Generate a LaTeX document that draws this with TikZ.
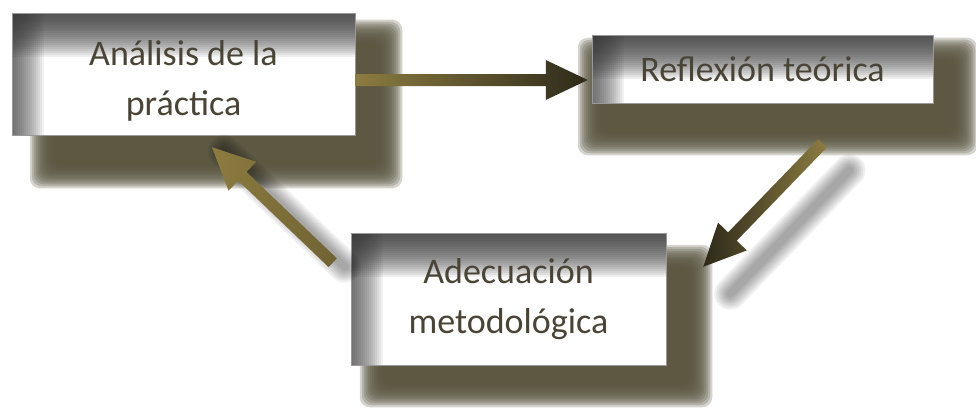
\documentclass[tikz,border=0pt]{standalone}
\usepackage{fontspec}
\setmainfont{Carlito}
\usetikzlibrary{calc,backgrounds}

\definecolor{shadowolive}{HTML}{57533D}
\definecolor{edgegray}{HTML}{3A3A3A}
\definecolor{arrowtan}{HTML}{8C7C40}
\definecolor{arrowdark}{HTML}{2E2A1A}
\definecolor{textgray}{HTML}{4A4436}

\tikzset{
  stagebox/.style={rectangle, draw=black!40, line width=0.5pt, inner sep=0pt,
    align=center, text=textgray, font=\fontsize{36}{50}\selectfont},
}

%% soft olive shadow between two corners
\newcommand{\softshadow}[2]{%
  \foreach \k in {0,...,11}
    \fill[shadowolive, opacity=0.25, rounded corners=10pt] ($(#1)+(\k*2,\k*2)$) rectangle ($(#2)-(\k*2,\k*2)$);
}
%% white face of a box, darkened along top and left edge
\newcommand{\boxface}[1]{%
  \fill[white] (#1.north west) rectangle (#1.south east);
  \foreach \k in {1,...,22}
    \fill[edgegray, opacity=0.08] (#1.north west) rectangle ($(#1.north east)+(0,\k*2)$);
  \foreach \k in {1,...,16}
    \fill[edgegray, opacity=0.07] (#1.north west) rectangle ($(#1.south west)+(\k*2,0)$);
}
%% blurred shadow of a fat arrow
\newcommand{\arrowshadow}[3]{%
  \foreach \w in {8,12,...,32}
    \draw[black, opacity=0.06, line width=\w pt, line cap=round] ($(#1)+(#3)$) -- ($(#2)+(#3)$);
}
%% fat arrow from #1 to #2, #3 = shading
\newcommand{\bigarrow}[3]{%
  \coordinate (hb) at ($(#2)!42pt!(#1)$);
  \shade[#3] ($(#1)!6pt!-90:(#2)$) -- ($(hb)!6pt!90:(#1)$) -- ($(hb)!20pt!90:(#1)$) -- (#2)
    -- ($(hb)!20pt!-90:(#1)$) -- ($(hb)!6pt!-90:(#1)$) -- ($(#1)!6pt!90:(#2)$) -- cycle;
}

\begin{document}
\begin{tikzpicture}[x=1pt, y=-1pt]
\useasboundingbox (0,0) rectangle (976,412);

%% boxes
\node[stagebox, minimum width=343pt, minimum height=122pt] (analisis) at (183.5,74) {\rule{0pt}{39pt}Análisis de la\\práctica};
\node[stagebox, minimum width=341pt, minimum height=68pt] (reflexion) at (762.5,69) {Reflexión teórica};
\node[stagebox, minimum width=315pt, minimum height=132pt] (adecuacion) at (508.5,299) {Adecuación\\metodológica};

%% shadows and faces
\begin{scope}[on background layer]
\softshadow{$(analisis.north west)+(18,7)$}{$(analisis.south east)+(47,53)$}
\softshadow{$(reflexion.north west)+(-14,3)$}{$(reflexion.south east)+(44,52)$}
\softshadow{$(adecuacion.north west)+(9,12)$}{$(adecuacion.south east)+(46,42)$}
\boxface{analisis}
\boxface{reflexion}
\boxface{adecuacion}
\end{scope}

%% arrow ends
\coordinate (ar) at ([yshift=-6pt]analisis.east);
\coordinate (rf) at ($(reflexion.west)+(-4,11)$);
\coordinate (rs) at ($(reflexion.south)+(60,40)$);
\coordinate (ad) at ($(adecuacion.north east)+(37,34)$);
\coordinate (as) at ($(adecuacion.north west)+(-18,30)$);
\coordinate (an) at ($(analisis.south)+(28.5,12)$);

%% arrows
\arrowshadow{rs}{ad}{27,27}
\arrowshadow{as}{an}{12,4}
\bigarrow{ar}{rf}{left color=arrowtan, middle color=arrowdark!85!arrowtan, right color=arrowdark}
\bigarrow{rs}{ad}{left color=arrowdark, middle color=arrowdark!70!arrowtan, right color=arrowtan}
\bigarrow{as}{an}{left color=arrowtan, right color=arrowtan!80!black}

\end{tikzpicture}
\end{document}
